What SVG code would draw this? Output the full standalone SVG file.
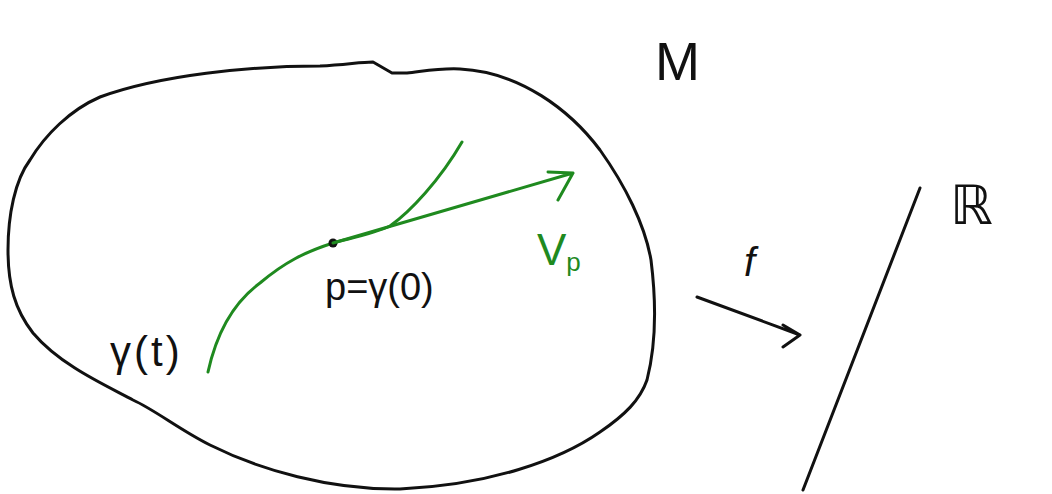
<svg xmlns="http://www.w3.org/2000/svg" width="1052" height="494" viewBox="0 0 1052 494">
<style>
.ink{fill:none;stroke:#111;stroke-width:3;stroke-linecap:round;stroke-linejoin:round}
.grn{fill:none;stroke:#1f8a1f;stroke-width:3;stroke-linecap:round;stroke-linejoin:round}
.lbl{font-family:"Liberation Sans","DejaVu Sans",sans-serif;fill:#111}
.glbl{font-family:"Liberation Sans","DejaVu Sans",sans-serif;fill:#1f8a1f}
</style>
<rect width="1052" height="494" fill="#fff"/>
<g id="manifold">
<path class="ink" d="M373,62 L392,73 L407,73 C425,71 440,68 460,69 C520,72 570,110 600,150 C625,185 645,225 651,260 C656,300 656,345 647,380 C640,400 625,415 600,432 C560,460 490,485 400,489 C330,490 260,470 210,445 C180,430 155,410 133,400 C105,385 60,365 33,333 C15,310 8,285 8,250 C8,215 15,180 30,160 C45,135 70,110 100,97 C160,75 250,66 320,66 C345,65 360,62 373,62 Z"/>
<text class="lbl" x="655" y="80" font-size="54">M</text>
</g>
<g id="curve">
<path class="grn" d="M208,372 C215,340 230,305 260,283 C285,262 305,252 333,243 C360,236 375,233 390,226 C410,212 440,180 462,142"/>
<text class="lbl" x="110" y="366" font-size="42" letter-spacing="3">γ(t)</text>
</g>
<g id="point">
<circle cx="333" cy="243" r="4.5" fill="#111"/>
<text class="lbl" x="325" y="300" font-size="38">p=γ(0)</text>
</g>
<g id="tangent">
<path class="grn" d="M333,243 L573,173 M548,172 L573,173 L558,200"/>
<text class="glbl" x="537" y="265" font-size="44">V<tspan font-size="26" dy="6">p</tspan></text>
</g>
<g id="reals">
<path class="ink" d="M920,188 L803,490"/>
<text class="lbl" x="950" y="224" font-size="54">ℝ</text>
</g>
<g id="connectors">
<path class="ink" d="M697,297 L800,335 M783,325 L800,335 L783,347"/>
<text class="lbl" x="744" y="276" font-size="40" font-style="italic">f</text>
</g>
</svg>
